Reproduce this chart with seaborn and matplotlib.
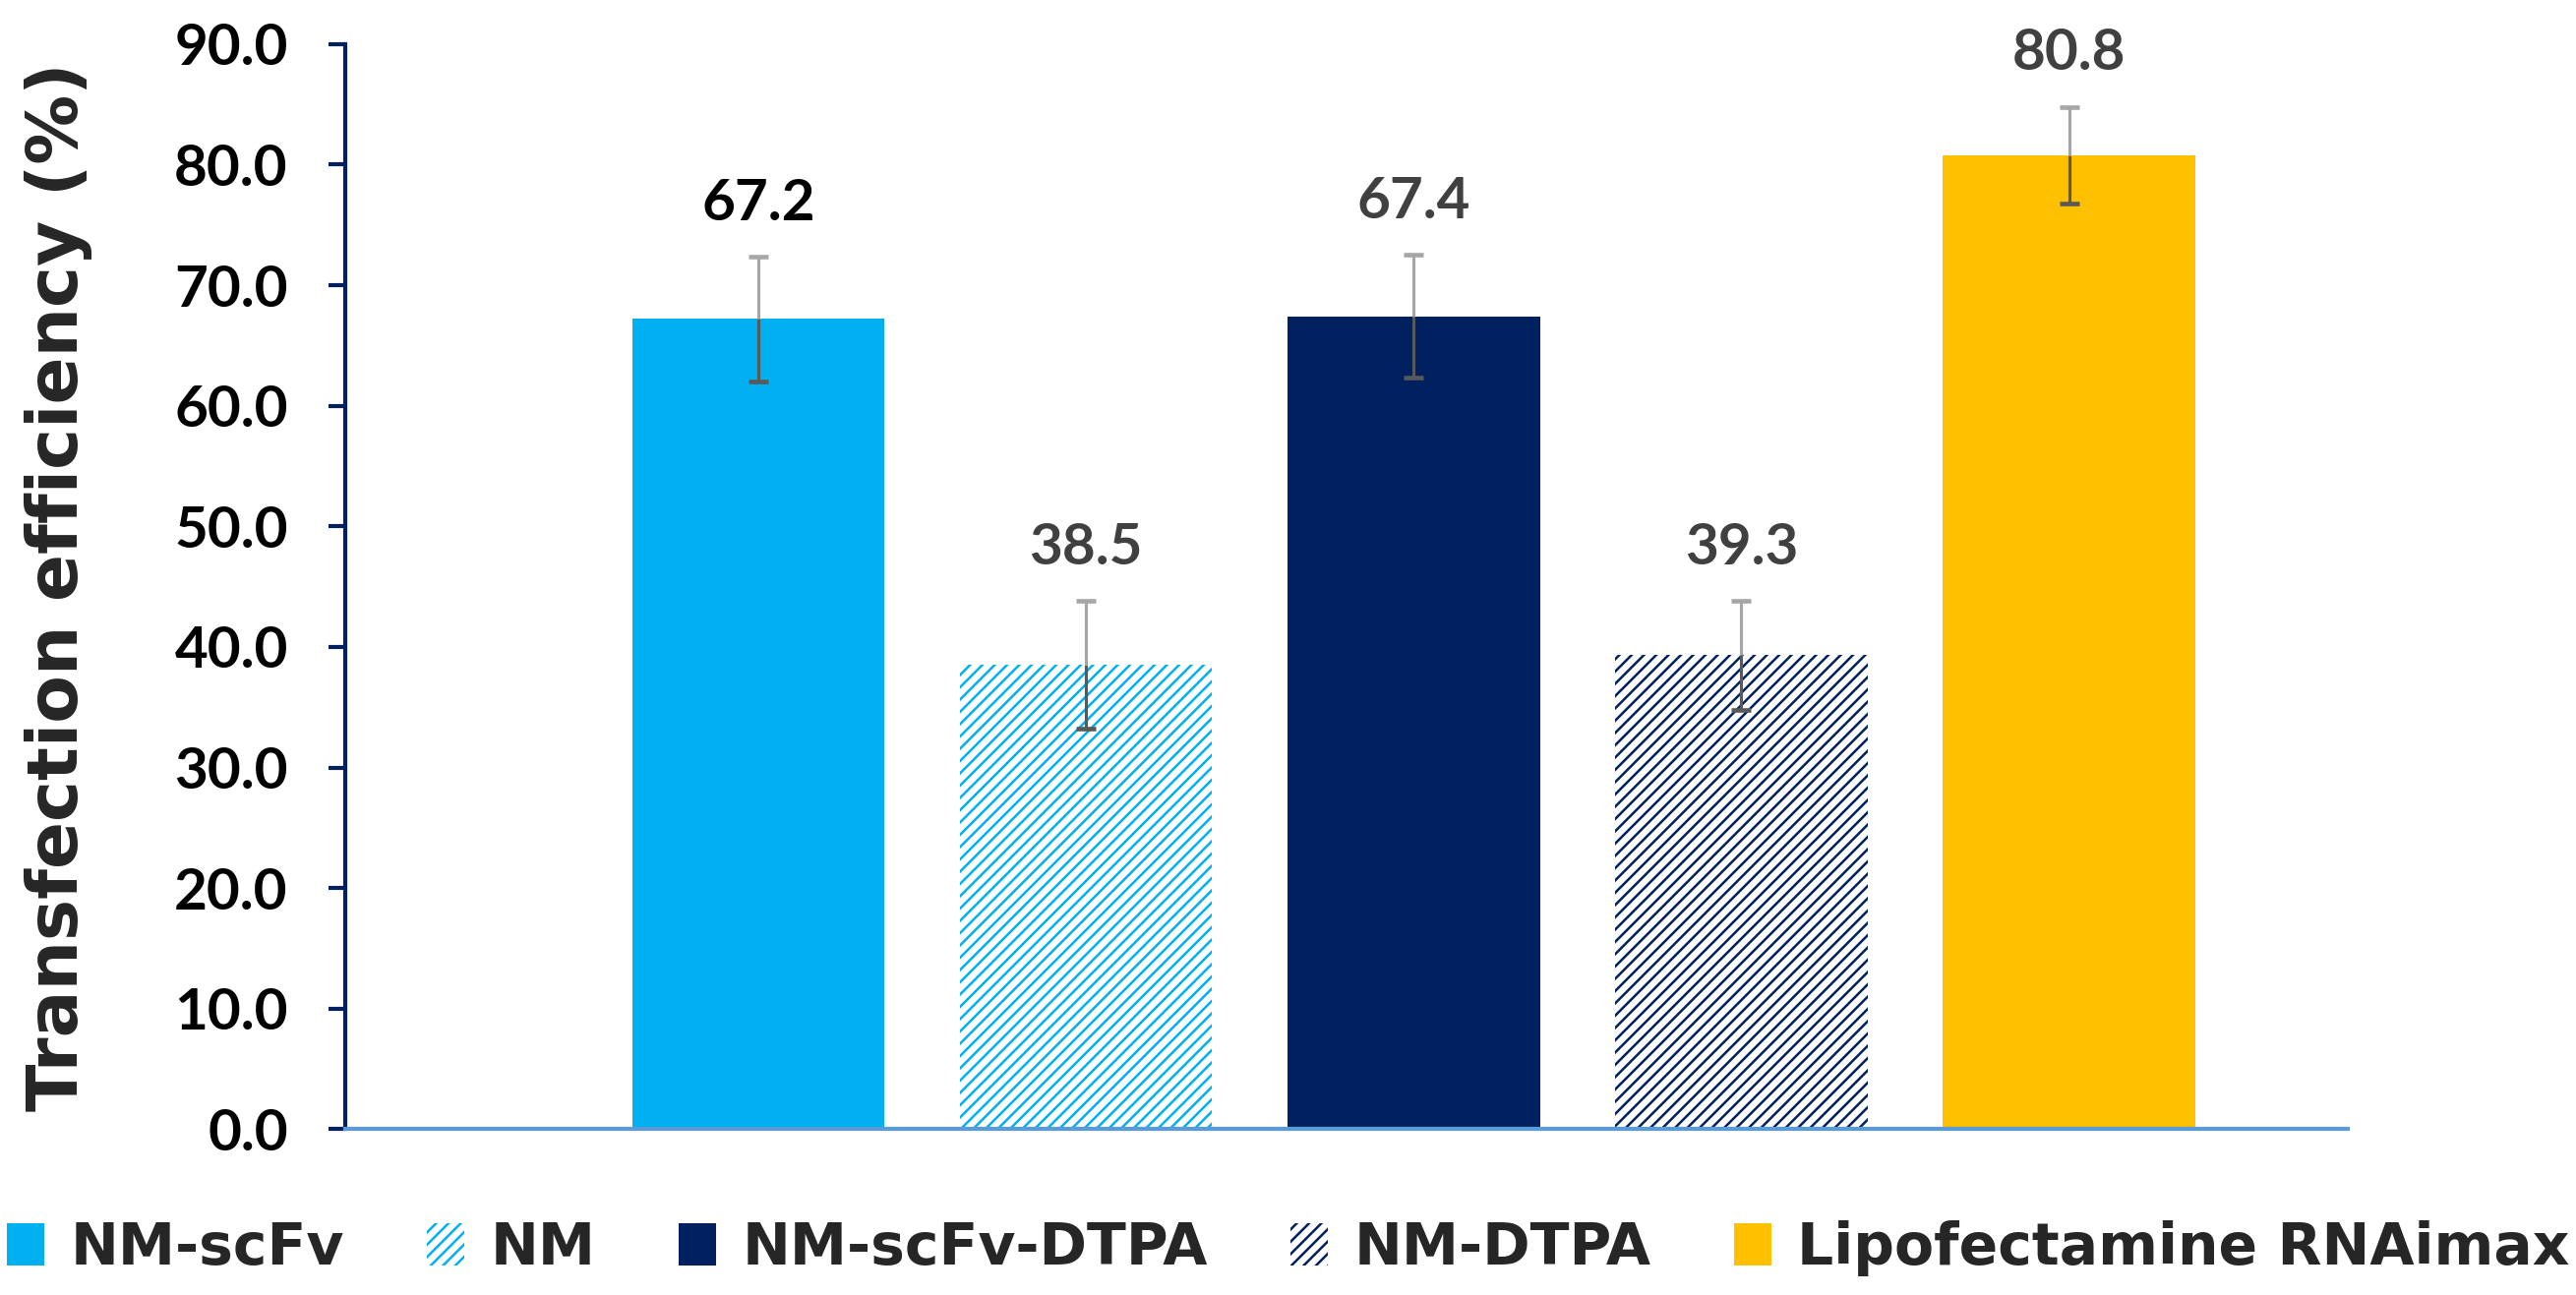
import numpy as np
import matplotlib
matplotlib.use('Agg')
import matplotlib.pyplot as plt
import seaborn as sns

# chart values
categories = ['NM-scFv', 'NM', 'NM-scFv-DTPA', 'NM-DTPA', 'Lipofectamine RNAimax']
efficiency = [67.2, 38.5, 67.4, 39.3, 80.8]
errors = [5.2, 5.3, 5.1, 4.5, 4.0]
bar_colors = ['#00B0F0', '#00B0F0', '#002060', '#002060', '#FFC000']
hatched = [False, True, False, True, False]
label_colors = ['#000000', '#404040', '#404040', '#404040', '#404040']

sns.set_theme(style='white')
plt.rcParams['font.family'] = ['DejaVu Sans']
plt.rcParams['hatch.linewidth'] = 1.2

dpi = 150
fig = plt.figure(figsize=(2620 / dpi, 1317 / dpi), dpi=dpi)
ax = fig.add_axes([0.134, 0.128, 0.777, 0.838])

palette = dict(zip(categories, bar_colors))
sns.barplot(x=categories, y=efficiency, hue=categories, palette=palette,
            legend=False, width=0.77, saturation=1, ax=ax, errorbar=None)

for patch, col, h in zip(ax.patches, bar_colors, hatched):
    patch.set_linewidth(0)
    if h:
        patch.set_facecolor('white')
        patch.set_edgecolor(col)
        patch.set_hatch('////')

x = np.arange(len(categories))
vals = np.array(efficiency)
errs = np.array(errors)
zeros = np.zeros_like(errs)

# lower half of the error bars (dark), upper half (light grey)
_, caps_lo, _ = ax.errorbar(x, vals, yerr=[errs, zeros], fmt='none', ecolor='#595959',
                            elinewidth=1.5, capsize=5, capthick=2.2, zorder=4)
_, caps_hi, _ = ax.errorbar(x, vals, yerr=[zeros, errs], fmt='none', ecolor='#A6A6A6',
                            elinewidth=1.5, capsize=5, capthick=2.2, zorder=4)
for c in caps_lo:
    if np.allclose(c.get_ydata(), vals):
        c.set_visible(False)
for c in caps_hi:
    if np.allclose(c.get_ydata(), vals):
        c.set_visible(False)
    else:
        c.set_color('#595959')
        c.set_zorder(5)

for xi, v, e, lc in zip(x, vals, errs, label_colors):
    ax.annotate(f'{v:.1f}', (xi, v + e), xytext=(0, 13), textcoords='offset points',
                ha='center', va='bottom', fontsize=28, fontweight='bold',
                color=lc, family='Lato')

ax.set_xlim(-1.26, 4.85)
ax.set_ylim(0, 90)
ax.set_yticks(np.arange(0, 91, 10))
ax.set_yticklabels([f'{t:.1f}' for t in np.arange(0, 91, 10)],
                   fontsize=28, fontweight='bold', family='Lato')
ax.set_xticks([])
ax.set_xlabel('')
ax.set_ylabel('Transfection efficiency (%)', fontsize=34, fontweight='bold', labelpad=40)

for side in ['top', 'right']:
    ax.spines[side].set_visible(False)
ax.spines['left'].set_color('#002060')
ax.spines['left'].set_linewidth(2)
ax.spines['bottom'].set_color('#5B9BD5')
ax.spines['bottom'].set_linewidth(2)
ax.tick_params(axis='y', direction='out', length=8, width=2, color='#002060',
               pad=20, left=True, labelcolor='black')
ax.grid(False)

fig.legend(ax.patches, categories, loc='center', bbox_to_anchor=(0.5, 0.036),
           ncol=5, frameon=False, prop={'size': 28, 'weight': 'bold'},
           handlelength=0.65, handleheight=0.75, handletextpad=0.45,
           columnspacing=1.45, borderaxespad=0)

fig.savefig('out.png', dpi=dpi)
